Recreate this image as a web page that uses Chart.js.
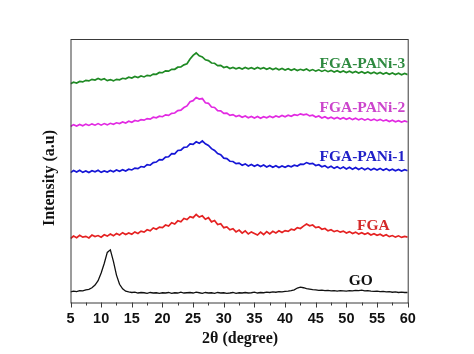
<!DOCTYPE html>
<html>
<head>
<meta charset="utf-8">
<script src="https://cdn.jsdelivr.net/npm/chart.js@4"></script>
<style>
html,body{margin:0;padding:0;background:#fff;}
canvas{display:block;}
</style>
</head>
<body>
<canvas id="c" width="474" height="354"></canvas>
<script>
// 2θ (degree) sampling positions
const twoTheta = [
 5,5.5,6,6.5,7,7.5,8,8.5,9,9.5,
 10,10.5,11,11.5,12,12.5,13,13.5,14,14.5,
 15,15.5,16,16.5,17,17.5,18,18.5,19,19.5,
 20,20.5,21,21.5,22,22.5,23,23.5,24,24.5,
 25,25.5,26,26.5,27,27.5,28,28.5,29,29.5,
 30,30.5,31,31.5,32,32.5,33,33.5,34,34.5,
 35,35.5,36,36.5,37,37.5,38,38.5,39,39.5,
 40,40.5,41,41.5,42,42.5,43,43.5,44,44.5,
 45,45.5,46,46.5,47,47.5,48,48.5,49,49.5,
 50,50.5,51,51.5,52,52.5,53,53.5,54,54.5,
 55,55.5,56,56.5,57,57.5,58,58.5,59,59.5,
 60];

const seriesNames = ["GO","FGA","FGA-PANi-1","FGA-PANi-2","FGA-PANi-3"];

// Intensity (a.u., stacked offsets as in the figure)
const GO = [
 4.0,4.3,4.1,4.5,4.4,4.8,5.0,5.6,6.6,8.3,
 11.2,14.8,19.0,20.0,15.6,10.4,6.9,5.2,4.3,4.0,
 3.8,3.9,3.6,3.8,3.7,3.5,3.8,3.6,3.7,3.5,
 3.7,3.6,3.8,3.5,3.7,3.6,3.9,3.6,3.7,3.8,
 3.6,3.9,3.7,3.5,3.8,3.6,3.7,3.5,3.8,3.6,
 3.7,3.5,3.6,3.8,3.5,3.7,3.6,3.8,3.6,3.7,
 3.9,3.6,3.8,3.7,3.9,3.8,4.0,3.9,4.1,4.0,
 4.2,4.3,4.5,4.8,5.5,5.8,5.6,5.3,5.1,4.9,
 4.8,4.6,4.7,4.5,4.6,4.4,4.5,4.3,4.5,4.4,
 4.3,4.5,4.4,4.6,4.5,4.7,4.4,4.5,4.3,4.2,
 4.3,4.1,4.2,4.0,4.1,3.9,4.0,3.8,3.9,3.8,
 3.8];

const FGA = [
 24.3,25.2,24.6,25.5,24.8,25.1,24.5,25.6,25.0,25.4,
 24.8,25.7,25.2,26.0,25.3,26.2,25.6,26.5,25.8,26.4,
 25.9,26.8,26.2,27.1,26.7,27.6,27.2,28.3,27.8,28.6,
 28.4,29.4,29.0,30.3,29.8,31.0,30.6,31.9,31.5,32.6,
 32.2,33.4,32.4,32.9,31.6,32.2,30.6,31.1,29.6,29.9,
 28.4,28.7,27.6,28.0,26.8,27.5,26.3,27.2,26.0,26.8,
 26.2,25.6,26.7,25.8,26.9,26.0,27.0,26.4,27.2,26.6,
 27.3,27.0,27.8,27.5,28.4,28.1,29.0,29.8,29.1,29.4,
 28.4,28.7,27.8,28.1,27.2,27.6,26.9,27.3,26.7,27.1,
 26.4,26.9,26.2,26.7,26.0,26.5,25.9,26.4,25.6,26.1,
 25.5,25.9,25.2,25.7,25.0,25.4,24.8,25.3,24.7,25.1,
 24.8];

const PANi1 = [
 49.3,50.1,49.5,50.2,49.4,49.9,49.3,50.0,49.6,50.2,
 49.4,49.9,49.5,50.1,49.6,50.3,49.8,50.4,49.9,50.6,
 50.3,51.0,50.8,51.6,51.4,52.3,52.1,53.1,53.3,54.2,
 54.1,55.2,55.3,56.5,56.4,57.7,57.8,58.9,59.0,60.2,
 60.0,61.0,60.4,61.3,60.2,59.6,58.4,57.7,56.5,56.1,
 54.8,54.6,53.6,53.5,52.7,52.9,52.1,52.6,51.8,52.4,
 51.7,52.3,51.6,52.2,51.4,52.0,51.3,51.9,51.2,51.8,
 51.3,51.9,51.5,52.1,51.8,52.5,52.4,53.1,52.6,52.8,
 52.0,52.3,51.5,51.9,51.1,51.7,50.9,51.5,50.8,51.4,
 50.7,51.3,50.6,51.2,50.5,51.1,50.4,51.0,50.3,50.9,
 50.3,50.9,50.2,50.8,50.1,50.6,50.0,50.5,49.9,50.4,
 50.0];

const PANi2 = [
 66.8,67.5,67.0,67.6,67.1,67.7,67.2,67.8,67.3,67.9,
 67.3,67.9,67.4,68.0,67.6,68.2,67.9,68.5,68.1,68.8,
 68.4,69.1,68.8,69.4,69.2,69.8,69.6,70.3,70.1,70.7,
 70.5,71.2,71.0,71.8,71.9,72.8,73.0,74.0,74.6,76.2,
 76.6,77.8,77.2,77.4,75.8,75.6,74.2,74.0,72.8,72.7,
 71.8,71.9,71.0,71.3,70.6,71.0,70.3,70.8,70.1,70.6,
 70.0,70.6,69.9,70.5,70.1,70.7,70.2,70.8,70.4,71.0,
 70.5,71.1,70.7,71.3,71.0,71.6,71.2,71.5,70.8,71.1,
 70.4,70.8,70.0,70.5,69.8,70.3,69.7,70.2,69.6,70.1,
 69.5,70.0,69.4,69.9,69.3,69.8,69.2,69.7,69.1,69.6,
 69.0,69.5,68.9,69.3,68.7,69.2,68.6,69.0,68.5,68.9,
 68.5];

const PANi3 = [
 83.0,83.6,83.3,83.9,83.7,84.3,84.1,84.7,84.4,85.0,
 84.5,84.9,84.2,84.6,84.1,84.7,84.5,85.1,84.9,85.5,
 85.2,85.8,85.4,86.0,85.6,86.2,86.0,86.7,86.6,87.3,
 87.2,87.9,87.8,88.5,88.5,89.3,89.4,90.2,90.6,92.4,
 93.8,94.7,93.6,93.2,92.1,91.8,90.9,90.8,89.9,90.0,
 89.2,89.5,88.8,89.2,88.7,89.1,88.6,89.2,88.7,89.1,
 88.6,89.2,88.7,89.1,88.5,89.0,88.4,88.9,88.3,88.8,
 88.2,88.7,88.1,88.6,88.0,88.5,88.1,88.6,87.9,88.4,
 87.8,88.3,87.7,88.2,87.6,88.1,87.5,88.0,87.4,87.9,
 87.3,87.8,87.2,87.7,87.1,87.6,87.0,87.5,86.9,87.4,
 86.8,87.3,86.7,87.2,86.6,87.1,86.5,87.0,86.4,86.9,
 86.5];

const majorTicks = [5,10,15,20,25,30,35,40,45,50,55,60];
const minorTicks = [7.5,12.5,17.5,22.5,27.5,32.5,37.5,42.5,47.5,52.5,57.5];

const lineColors  = ["#111111","#e52222","#1616d6","#e22ae2","#1f8a24"];
const labelColors = ["#111111","#d42a2a","#2020c8","#cc44cc","#2e8a40"];
const seriesData = [GO, FGA, PANi1, PANi2, PANi3];

const datasets = seriesData.map((vals, i) => ({
  label: seriesNames[i],
  data: twoTheta.map((t, k) => ({x: t, y: vals[k]})),
  borderColor: lineColors[i],
  borderWidth: i === 0 ? 1.3 : 1.7,
  pointRadius: 0,
  tension: 0,
  fill: false
}));

// label anchors (in data units): [x, y, align]
const labelAnchors = [
  [52.35, 8.0, "center"],
  [54.4, 29.1, "center"],
  [59.6, 55.2, "right"],
  [59.6, 73.7, "right"],
  [59.6, 90.5, "right"]
];

const decor = {
  id: "decor",
  afterDraw(chart) {
    const {ctx, chartArea: a, scales: {x, y}} = chart;
    ctx.save();
    ctx.strokeStyle = "#3a3a3a";
    ctx.lineWidth = 1;
    ctx.strokeRect(a.left + 0.5, a.top + 0.5, a.right - a.left, a.bottom - a.top);
    ctx.beginPath();
    majorTicks.forEach(v => {
      const px = Math.round(x.getPixelForValue(v)) + 0.5;
      ctx.moveTo(px, a.bottom); ctx.lineTo(px, a.bottom + 5);
    });
    minorTicks.forEach(v => {
      const px = Math.round(x.getPixelForValue(v)) + 0.5;
      ctx.moveTo(px, a.bottom); ctx.lineTo(px, a.bottom + 3);
    });
    ctx.stroke();

    // series labels
    ctx.font = "bold 15.5px 'Liberation Serif', 'Times New Roman', serif";
    ctx.textBaseline = "middle";
    labelAnchors.forEach((an, i) => {
      ctx.fillStyle = labelColors[i];
      ctx.textAlign = an[2];
      ctx.fillText(seriesNames[i], x.getPixelForValue(an[0]), y.getPixelForValue(an[1]));
    });

    // axis titles
    ctx.fillStyle = "#111";
    ctx.font = "bold 16px 'Liberation Serif', 'Times New Roman', serif";
    ctx.textAlign = "center";
    ctx.textBaseline = "middle";
    ctx.fillText("2θ (degree)", (a.left + a.right) / 2 + 1, 339);
    ctx.translate(50, 178);
    ctx.rotate(-Math.PI / 2);
    ctx.fillText("Intensity (a.u)", 0, 0);
    ctx.restore();
  }
};

new Chart(document.getElementById("c"), {
  type: "line",
  data: {datasets},
  options: {
    responsive: false,
    animation: false,
    devicePixelRatio: 1,
    layout: {padding: {left: 70.5, right: 66.3, top: 39, bottom: 0}},
    plugins: {legend: {display: false}, tooltip: {enabled: false}},
    scales: {
      x: {
        type: "linear",
        min: 5, max: 60,
        afterFit(s) { s.height = 51.5; },
        afterBuildTicks(s) { s.ticks = majorTicks.map(v => ({value: v})); },
        grid: {display: false, drawTicks: false},
        border: {display: false},
        ticks: {
          autoSkip: false,
          maxRotation: 0,
          padding: 8,
          color: "#111",
          font: {family: "'Liberation Sans', Arial, sans-serif", size: 14.5, weight: "bold"}
        }
      },
      y: {
        type: "linear",
        min: 0, max: 100,
        display: false
      }
    }
  },
  plugins: [decor]
});
</script>
</body>
</html>
